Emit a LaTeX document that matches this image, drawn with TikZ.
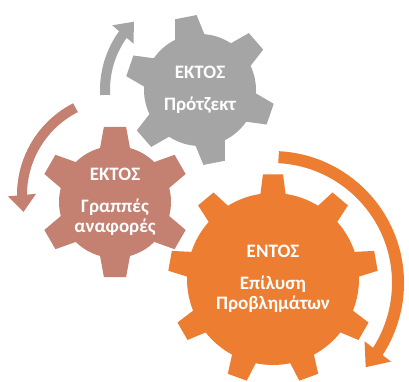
\documentclass[tikz,border=0pt]{standalone}
\usepackage{fontspec}
\setmainfont{Carlito}
\usetikzlibrary{arrows.meta,bending}
\definecolor{gearGray}{RGB}{165,165,165}
\definecolor{gearBrown}{RGB}{196,128,112}
\definecolor{gearOrange}{RGB}{237,125,49}

% #1 colour, #2 hub, #3 teeth, #4 rotation, #5 outer r, #6 inner r, #7 top half angle, #8 base half angle
\newcommand{\gearshape}[8]{%
  \fill[#1,shift={(#2)}] (#4-#8:#6)
    \foreach \k in {1,...,#3}{
      -- ({#4+(\k-1)*360/#3-#7}:#5) -- ({#4+(\k-1)*360/#3+#7}:#5) -- ({#4+(\k-1)*360/#3+#8}:#6)
      arc[start angle={#4+(\k-1)*360/#3+#8}, end angle={#4+\k*360/#3-#8}, radius=#6]
    } -- cycle;
}

\tikzset{
  gear label/.style={text=white, font=\bfseries\fontsize{19}{20}\selectfont, align=center},
  small turn/.style={line width=10pt, -{Triangle[width=27pt,length=17pt]}},
  big turn/.style={line width=12pt, -{Triangle[width=32pt,length=20pt]}}
}

\begin{document}
\begin{tikzpicture}[x=1pt,y=1pt]
  \useasboundingbox (0,0) rectangle (409,381);

  \coordinate (gray_hub) at (200,291);
  \coordinate (brown_hub) at (115,179);
  \coordinate (orange_hub) at (273,102);

  % arrows round the gears
  \draw[small turn, gearGray] ([shift={(183:95)}]200,291) arc[start angle=183, end angle=134, radius=95];
  \draw[small turn, gearBrown] ([shift={(117:98)}]120,186) arc[start angle=117, end angle=190, radius=98];
  \draw[big turn, gearOrange] ([shift={(87:126)}]272,98) arc[start angle=87, end angle=-42, radius=126];

  \gearshape{gearGray}{gray_hub}{6}{101}{75}{56}{8.4}{15.5}
  \gearshape{gearBrown}{brown_hub}{6}{90}{76}{56}{8.4}{15.5}
  \gearshape{gearOrange}{orange_hub}{9}{90}{105}{86}{5.5}{8.4}

  \node (gray_label) [gear label] at (gray_hub) {ΕΚΤΟΣ\\[12pt]Πρότζεκτ};
  \node (brown_label) [gear label] at (brown_hub) {ΕΚΤΟΣ\\[12pt]Γραππές\\αναφορές};
  \node (orange_label) [gear label] at (orange_hub) {ΕΝΤΟΣ\\[12pt]Επίλυση\\Προβλημάτων};
\end{tikzpicture}
\end{document}
